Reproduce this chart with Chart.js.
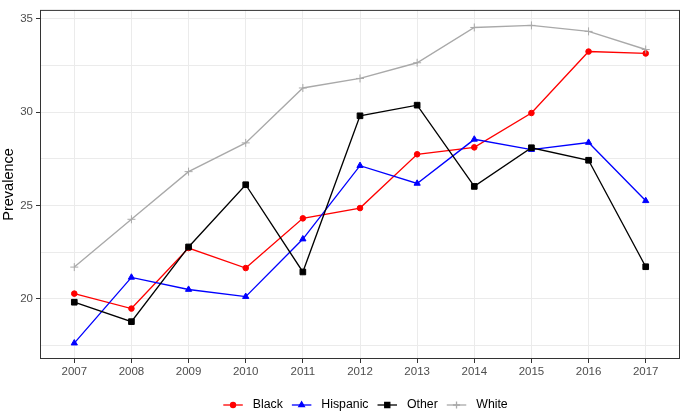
<!DOCTYPE html>
<html lang="en">
<head>
    <meta charset="UTF-8">
    <title>Prevalence by group, 2007-2017</title>
    <style>
        html, body {
            margin: 0;
            padding: 0;
            background: #ffffff;
        }
        #chart-container {
            width: 685px;
            height: 413px;
        }
        canvas {
            display: block;
        }
    </style>
</head>
<body>
    <div id="chart-container">
        <canvas id="prev-chart" width="685" height="413"></canvas>
    </div>

    <script src="https://cdn.jsdelivr.net/npm/chart.js"></script>
    <script>
        // data
        const years = [2007, 2008, 2009, 2010, 2011, 2012, 2013, 2014, 2015, 2016, 2017];
        const black    = [20.28, 19.48, 22.72, 21.65, 24.31, 24.86, 27.74, 28.11, 29.95, 33.24, 33.14];
        const hispanic = [17.63, 21.15, 20.50, 20.12, 23.20, 27.13, 26.18, 28.54, 27.99, 28.37, 25.25];
        const other    = [19.82, 18.78, 22.78, 26.11, 21.44, 29.80, 30.37, 26.02, 28.09, 27.42, 21.72];
        const white    = [21.70, 24.26, 26.81, 28.35, 31.29, 31.80, 32.64, 34.53, 34.64, 34.32, 33.35];
        const yTicks = [17.5, 20, 22.5, 25, 27.5, 30, 32.5, 35];

        const FONT = '"Liberation Sans", Arial, sans-serif';

        const series = [
            { label: 'Black',    data: black,    color: '#FF0000', style: 'circle',   radius: 2.8, order: 4 },
            { label: 'Hispanic', data: hispanic, color: '#0000FF', style: 'triangle', radius: 3.6, order: 3 },
            { label: 'Other',    data: other,    color: '#000000', style: 'rect',     radius: 4,   order: 2 },
            { label: 'White',    data: white,    color: '#A9A9A9', style: 'cross',    radius: 4,   order: 1 }
        ];

        // panel border like ggplot theme_bw
        const borderPlugin = {
            id: 'panelBorder',
            afterDatasetsDraw(chart) {
                const a = chart.chartArea;
                const ctx = chart.ctx;
                ctx.save();
                ctx.strokeStyle = '#333333';
                ctx.lineWidth = 1;
                ctx.strokeRect(a.left + 0.5, a.top + 0.5, a.right - a.left - 1, a.bottom - a.top - 1);
                ctx.restore();
            }
        };

        // bottom legend: line with the marker in the middle, then the label
        const legendPlugin = {
            id: 'lineLegend',
            afterDraw(chart) {
                const ctx = chart.ctx;
                const y = 405;
                const keyW = 19.5, gapText = 10, gapNext = 9;
                ctx.save();
                ctx.font = '12.3px ' + FONT;
                let total = 0;
                series.forEach((s, i) => {
                    total += keyW + gapText + ctx.measureText(s.label).width;
                    if (i < series.length - 1) total += gapNext;
                });
                let x = 365.5 - total / 2;
                series.forEach(s => {
                    ctx.strokeStyle = s.color;
                    ctx.lineWidth = 1.3;
                    ctx.beginPath();
                    ctx.moveTo(x, y);
                    ctx.lineTo(x + keyW, y);
                    ctx.stroke();
                    ctx.fillStyle = s.color;
                    Chart.helpers.drawPoint(ctx, {
                        pointStyle: s.style,
                        radius: s.radius * 0.9,
                        rotation: 0,
                        borderWidth: 1
                    }, x + keyW / 2, y);
                    x += keyW + gapText;
                    ctx.fillStyle = '#000000';
                    ctx.textBaseline = 'middle';
                    ctx.textAlign = 'left';
                    ctx.fillText(s.label, x, y);
                    x += ctx.measureText(s.label).width + gapNext;
                });
                ctx.restore();
            }
        };

        const ctx = document.getElementById('prev-chart').getContext('2d');
        const prevChart = new Chart(ctx, {
            type: 'line',
            data: {
                datasets: series.map(s => ({
                    label: s.label,
                    data: years.map((yr, i) => ({ x: yr, y: s.data[i] })),
                    borderColor: s.color,
                    backgroundColor: s.color,
                    borderWidth: 1.35,
                    pointStyle: s.style,
                    pointRadius: s.radius,
                    pointBorderWidth: 1,
                    tension: 0,
                    order: s.order
                }))
            },
            options: {
                responsive: false,
                animation: false,
                events: [],
                layout: { padding: { top: 1, right: 3, bottom: 34, left: 0 } },
                plugins: {
                    legend: { display: false },
                    tooltip: { enabled: false }
                },
                scales: {
                    x: {
                        type: 'linear',
                        min: 2006.4,
                        max: 2017.6,
                        afterBuildTicks: axis => { axis.ticks = years.map(v => ({ value: v })); },
                        afterFit: scale => { scale.height = 20; },
                        border: { display: false },
                        grid: {
                            color: '#EBEBEB',
                            lineWidth: 1,
                            tickColor: '#333333',
                            tickLength: 4
                        },
                        ticks: {
                            autoSkip: false,
                            maxRotation: 0,
                            padding: 2,
                            color: '#4D4D4D',
                            font: { family: FONT, size: 11.5 },
                            callback: v => String(v)
                        }
                    },
                    y: {
                        min: 16.78,
                        max: 35.47,
                        afterBuildTicks: axis => { axis.ticks = yTicks.map(v => ({ value: v })); },
                        afterFit: scale => { scale.width = 40; },
                        border: { display: false },
                        grid: {
                            color: '#EBEBEB',
                            lineWidth: 1,
                            tickColor: c => (c.tick && c.tick.value % 5 === 0) ? '#333333' : 'rgba(0,0,0,0)',
                            tickLength: 4
                        },
                        ticks: {
                            autoSkip: false,
                            padding: 3,
                            color: '#4D4D4D',
                            font: { family: FONT, size: 11.5 },
                            callback: v => (v % 5 === 0 ? String(v) : '')
                        },
                        title: {
                            display: true,
                            text: 'Prevalence',
                            color: '#000000',
                            font: { family: FONT, size: 14.5 },
                            padding: { top: 0, bottom: 0 }
                        }
                    }
                }
            },
            plugins: [borderPlugin, legendPlugin]
        });
    </script>
</body>
</html>
